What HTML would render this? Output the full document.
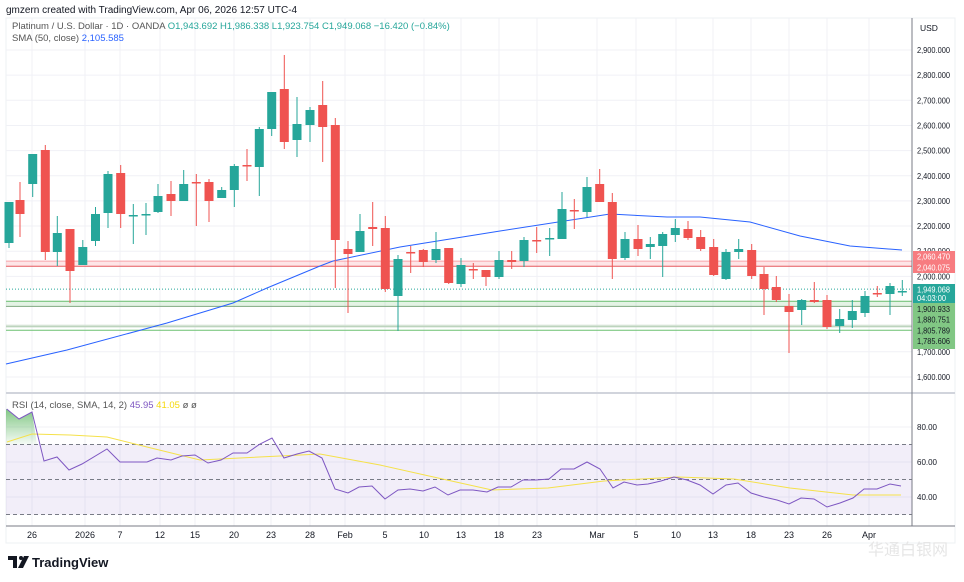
<!DOCTYPE html>
<html><head><meta charset="utf-8"><style>
html,body{margin:0;padding:0;background:#fff;width:964px;height:582px;overflow:hidden;font-family:"Liberation Sans",sans-serif}
svg{position:absolute;left:0;top:0}
</style></head><body>
<svg id="s" width="964" height="582" xmlns="http://www.w3.org/2000/svg" font-family="Liberation Sans, sans-serif"></svg>
<script>
var s=document.getElementById('s');var h='';
function Y(p){return 50+(2900-p)*0.2515;}
function R(r){return 427+(80-r)*1.75;}
h+='<rect x="6" y="18" width="949" height="525" fill="none" stroke="#eef0f3"/>';
var xs=[32,85,120,160,195,234,271,310,345,385,424,461,499,537,597,636,676,713,751,789,827,869];
xs.forEach(function(x){h+='<line x1="'+x+'" y1="18" x2="'+x+'" y2="526" stroke="#f0f1f6"/>';});
for(var p=1600;p<=2900;p+=100){var y=Y(p);h+='<line x1="6" y1="'+y+'" x2="912" y2="'+y+'" stroke="#f0f1f6"/>';}
[80,60,40].forEach(function(r){h+='<line x1="6" y1="'+R(r)+'" x2="912" y2="'+R(r)+'" stroke="#f0f1f6"/>';});
h+='<rect x="6" y="'+R(70)+'" width="906" height="'+(R(30)-R(70))+'" fill="#7e57c2" fill-opacity="0.1"/>';
[70,50,30].forEach(function(r){h+='<line x1="6" y1="'+R(r)+'" x2="912" y2="'+R(r)+'" stroke="#787b86" stroke-dasharray="4,3" stroke-width="1"/>';});
h+='<rect x="6" y="'+Y(2060.47)+'" width="906" height="'+(Y(2040.075)-Y(2060.47))+'" fill="#f7525f" fill-opacity="0.15"/>';
h+='<line x1="6" y1="'+Y(2060.47)+'" x2="912" y2="'+Y(2060.47)+'" stroke="#f7a5aa"/>';
h+='<line x1="6" y1="'+Y(2040.075)+'" x2="912" y2="'+Y(2040.075)+'" stroke="#e5585f"/>';
h+='<rect x="6" y="'+Y(1900.933)+'" width="906" height="'+(Y(1880.751)-Y(1900.933))+'" fill="#4caf50" fill-opacity="0.15"/>';
h+='<line x1="6" y1="'+Y(1900.933)+'" x2="912" y2="'+Y(1900.933)+'" stroke="#6cc070"/>';
h+='<line x1="6" y1="'+Y(1880.751)+'" x2="912" y2="'+Y(1880.751)+'" stroke="#7fa880"/>';
h+='<line x1="6" y1="'+(Y(1805.789))+'" x2="912" y2="'+Y(1805.789)+'" stroke="#c9dcc9"/>';
h+='<line x1="6" y1="'+(Y(1805.789)+1.5)+'" x2="912" y2="'+(Y(1805.789)+1.5)+'" stroke="#a9c9a9"/>';
h+='<line x1="6" y1="'+Y(1785.606)+'" x2="912" y2="'+Y(1785.606)+'" stroke="#6cc070"/>';
h+='<line x1="6" y1="'+Y(1949.068)+'" x2="912" y2="'+Y(1949.068)+'" stroke="#26a69a" stroke-dasharray="1,2"/>';
h+='<polyline fill="none" stroke="#2962ff" stroke-width="1" points="6,364 67,350 167,323 233,303 267,288 320,266 333,261 400,247 500,231 610,214 667,217 700,217 750,222 800,236 850,246 902,250"/>';
var C=[[9,243,202,202,248,1],[20,200,214,182,237,0],[32.7,184,154,154,197,1],[45.3,150,252,145,260,0],[57.3,252,233,216,266,1],[70,229,271,229,303,0],[82.8,265,247,240,265,1],[95.5,241,214,207,246,1],[108,213,174,171,228,1],[120.7,173,214,165,228,0],[133.3,215,215,204,244,1],[146,214,214,203,235,1],[158,212,196,184,213,1],[171,194,201,181,216,0],[183.7,201,184,170,201,1],[196.3,182,182,174,226,0],[209,182,201,179,222,0],[221.7,198,190,187,198,1],[234.3,190,166,164,207,1],[247,165,165,149,181,0],[259.3,167,129,127,196,1],[271.7,129,92,92,136,1],[284.3,89,142,55,149,0],[297,140,124,97,157,1],[310,125,110,107,142,1],[322.7,105,127,81,162,0],[335.3,125,240,118,288,0],[348,249,254,241,313,0],[360,252,231,214,252,1],[372.7,227,229,202,246,0],[385.3,228,289,216,292,0],[398,296,259,255,331,1],[410.7,252,252,246,273,0],[423.3,250,262,249,267,0],[436,260,249,232,263,1],[448.7,248,283,248,284,0],[461,284,265,258,287,1],[473.3,269,269,263,279,0],[486,270,277,270,286,0],[499,277,260,251,279,1],[511.7,260,262,251,269,0],[524,261,240,237,267,1],[536.7,240,240,227,253,0],[549.7,238,238,228,256,1],[562,239,209,192,239,1],[574.3,210,210,199,229,0],[587,212,187,177,217,1],[599.7,184,202,169,202,0],[612.3,202,259,193,279,0],[625,258,239,232,260,1],[638,239,249,225,256,0],[650.3,247,244,237,259,1],[662.7,246,234,232,277,1],[675.3,235,228,219,242,1],[688,229,238,221,240,0],[700.7,237,249,230,251,0],[713.7,247,275,239,276,0],[726,279,252,249,280,1],[738.7,252,249,239,259,1],[751.7,250,276,244,279,0],[764,274,289,267,315,0],[776.3,287,300,276,302,0],[789,306,312,294,353,0],[801.7,310,300,299,325,1],[814.3,300,302,282,303,0],[827,300,327,295,329,0],[839.7,326,319,309,333,1],[852.3,320,311,300,328,1],[865,313,296,291,317,1],[877.3,293,294,286,297,0],[890,294,286,283,315,1],[902.3,291,291,280,296,1]];
C.forEach(function(c){var col=c[5]?'#26a69a':'#ef5350';var t=Math.min(c[1],c[2]),b=Math.max(c[1],c[2]);if(b-t<1.5){b=t+1.5;}
h+='<line x1="'+c[0]+'" y1="'+c[3]+'" x2="'+c[0]+'" y2="'+c[4]+'" stroke="'+col+'" stroke-width="1"/>';
h+='<rect x="'+(c[0]-4.5)+'" y="'+t+'" width="9" height="'+(b-t)+'" fill="'+col+'"/>';});
h+='<line x1="6" y1="393" x2="955" y2="393" stroke="#d1d4dc" stroke-width="2"/>';
h+='<line x1="6" y1="526" x2="955" y2="526" stroke="#787b86"/>';
h+='<line x1="912" y1="18" x2="912" y2="526" stroke="#787b86"/>';
h+='<defs><linearGradient id="gg" x1="0" y1="0" x2="0" y2="1"><stop offset="0" stop-color="#4caf50" stop-opacity="0.7"/><stop offset="1" stop-color="#4caf50" stop-opacity="0.05"/></linearGradient></defs>';
h+='<polygon points="6,409 19,419 32,412 37,'+R(70)+' 6,'+R(70)+'" fill="url(#gg)"/>';
h+='<polyline fill="none" stroke="#f5e14a" stroke-width="1" points="7,442 32,434 70,435 107,437 147,447 200,460 240,458 280,456 320,454 380,465 447,480 492,490 548,488 604,481 678,477 734,479 790,488 853,495 901,495"/>';
h+='<polyline fill="none" stroke="#7e57c2" stroke-width="1" points="6.7,409 19,419 32,412 44,461 57,457 69,470 82,464 107,449 120,462 147,462 157,458 171,460 182,456 195,455 208,463 221,460 233,453 247,453 260,444 272,438 284,458 297,454 309,451 322,458 335,489 348,493 359,487 372,486 385,499 398,490 410,489 423,491 435,487 448,495 460,490 473,490 487,492 498,487 511,487 523,480 536,480 549,479 561,469 574,469 587,462 600,469 613,488 624,482 637,485 648,484 661,481 674,477 687,480 700,485 713,494 726,485 738,483 751,493 764,497 777,500 789,504 801,498 814,499 827,507 840,503 853,498 864,489 877,489 890,484 901,486"/>';
function T(x,y,txt,col,w){return '<text x="'+x+'" y="'+y+'" font-size="8.5" fill="'+col+'" textLength="'+(w||33)+'" lengthAdjust="spacingAndGlyphs">'+txt+'</text>';}
for(var p=1600;p<=2900;p+=100){if(p==1800||p==1900)continue;var lab=(p/1000|0)+','+String(p%1000).padStart(3,'0')+'.000';h+=T(917,Y(p)+3,lab,'#131722');}
h+='<text x="920" y="31" font-size="8.5" fill="#131722">USD</text>';
h+='<rect x="913" y="251" width="42" height="11" fill="#f77c80"/>'+T(917,259.5,'2,060.470','#fff');
h+='<rect x="913" y="262" width="42" height="11" fill="#f77c80"/>'+T(917,270.5,'2,040.075','#fff');
h+='<rect x="913" y="284" width="42" height="19" fill="#26a69a"/>'+T(917,292.5,'1,949.068','#fff')+T(917,301,'04:03:00','#fff',29);
h+='<rect x="913" y="303" width="42" height="46" fill="#81c784"/>';
[['1,900.933',312],['1,880.751',322.5],['1,805.789',333.5],['1,785.606',344]].forEach(function(t){h+=T(917,t[1],t[0],'#131722');});
[['80.00',80],['60.00',60],['40.00',40]].forEach(function(t){h+=T(917,R(t[1])+3,t[0],'#131722',20);});
var dl=[['26',32],['2026',85],['7',120],['12',160],['15',195],['20',234],['23',271],['28',310],['Feb',345],['5',385],['10',424],['13',461],['18',499],['23',537],['Mar',597],['5',636],['10',676],['13',713],['18',751],['23',789],['26',827],['Apr',869]];
dl.forEach(function(d){h+='<text x="'+d[1]+'" y="538" font-size="9" fill="#131722" text-anchor="middle">'+d[0]+'</text>';});
h+='<text x="6" y="13" font-size="10" fill="#131722">gmzern created with TradingView.com, Apr 06, 2026 12:57 UTC-4</text>';
h+='<text x="12" y="29" font-size="9.5" fill="#555"><tspan>Platinum / U.S. Dollar · 1D · OANDA </tspan><tspan fill="#26a69a">O1,943.692  H1,986.338  L1,923.754  C1,949.068  −16.420 (−0.84%)</tspan></text>';
h+='<text x="12" y="41" font-size="9.5" fill="#555">SMA (50, close) <tspan fill="#2962ff">2,105.585</tspan></text>';
h+='<text x="12" y="408" font-size="9.5" fill="#555">RSI (14, close, SMA, 14, 2) <tspan fill="#7e57c2">45.95</tspan> <tspan fill="#f5d90a">41.05</tspan>  ø  ø</text>';
h+='<path d="M8 556 h9 v12 h-4 v-8 h-5z" fill="#131722"/><circle cx="21" cy="558" r="2" fill="#131722"/><path d="M24 556 h5 l-6 12 h-5z" fill="#131722"/>';
h+='<text x="32" y="567" font-size="13" font-weight="bold" fill="#131722">TradingView</text>';
h+='<text x="868" y="555" font-size="16" fill="#e6e6e6" font-family="Noto Sans CJK SC, sans-serif">华通白银网</text>';
s.innerHTML=h;
</script>
</body></html>
